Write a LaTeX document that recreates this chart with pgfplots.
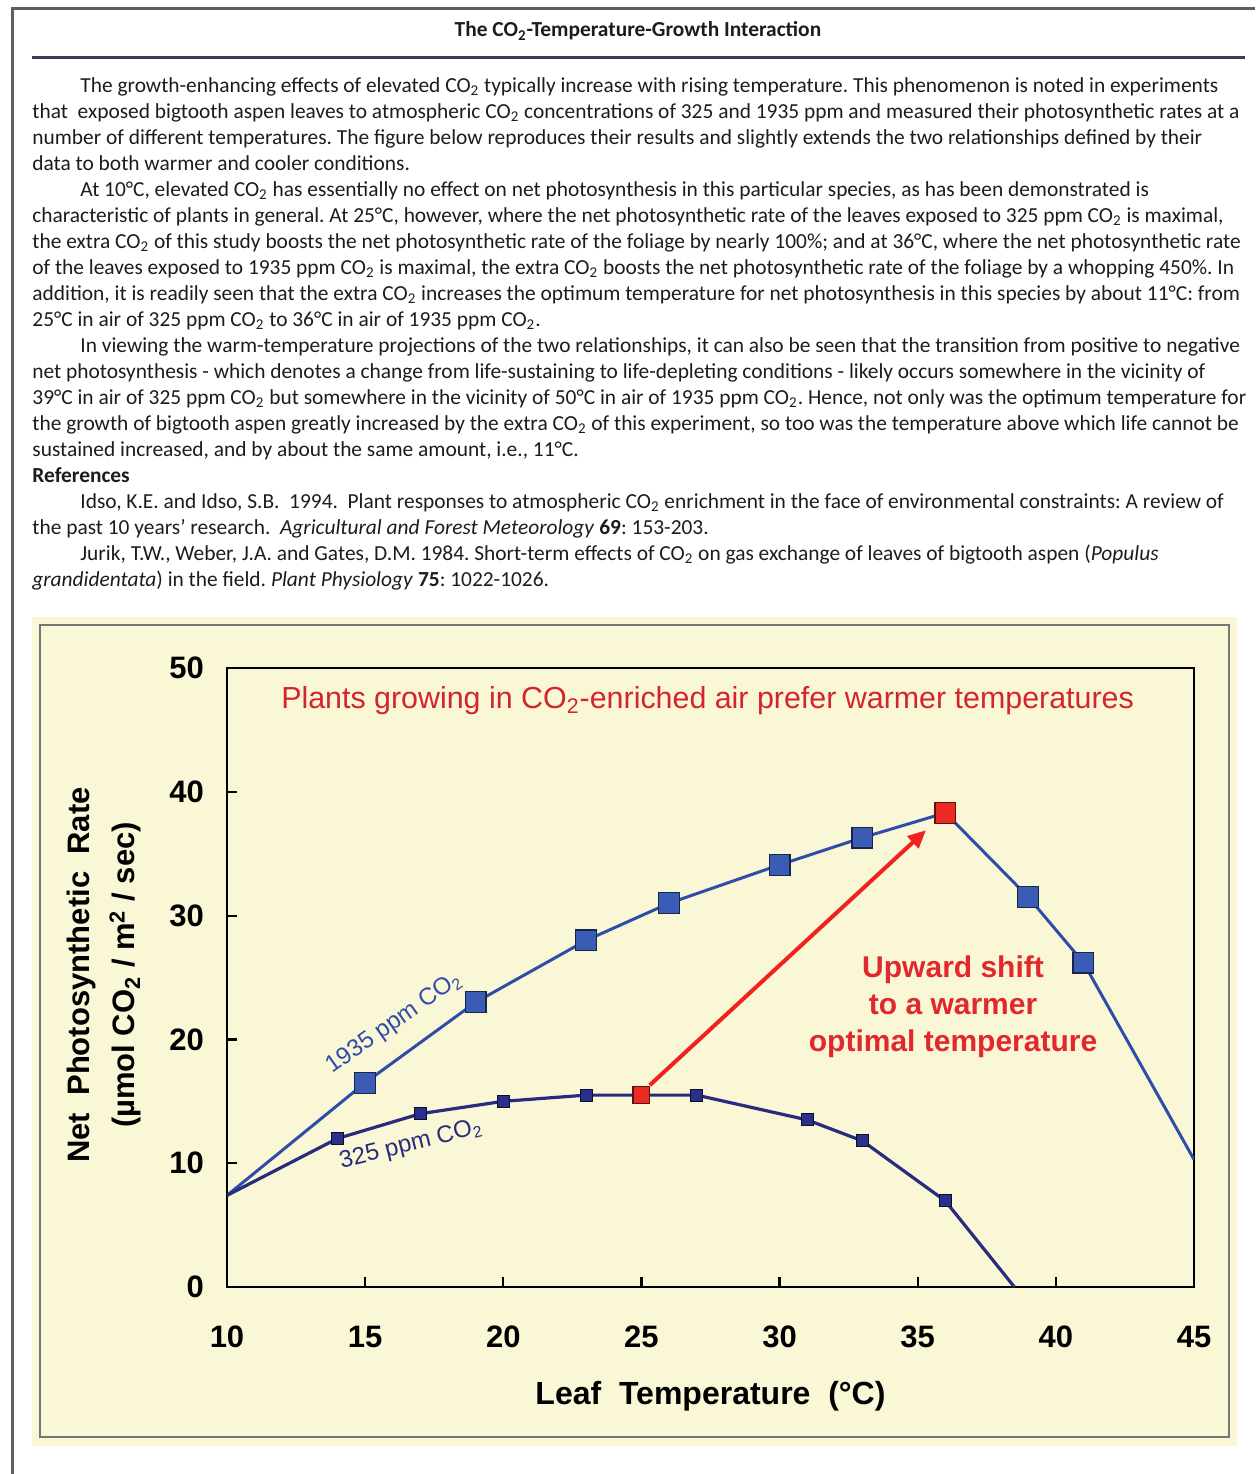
\documentclass[border=0pt]{standalone}
\usepackage{fontspec}
\setmainfont{Carlito}
\newfontfamily\arialfont{Liberation Sans}
\usepackage{pgfplots}
\pgfplotsset{compat=1.18}
\usetikzlibrary{arrows.meta}
\frenchspacing

\definecolor{chartbg}{HTML}{F9F7D6}
\definecolor{hiblue}{HTML}{3A5CB5}
\definecolor{hiblueline}{HTML}{2F4DA8}
\definecolor{loblue}{HTML}{2B2F8C}
\definecolor{loblueline}{HTML}{282B7E}
\definecolor{titlered}{HTML}{D3262C}
\definecolor{annred}{HTML}{E2282C}
\definecolor{arrowred}{HTML}{F0221F}
\definecolor{markred}{HTML}{EC2A24}
\definecolor{textgray}{HTML}{1C1C1C}
\definecolor{rulegray}{HTML}{3A3E5C}
\definecolor{framegray}{HTML}{5E5E5E}

% one line of the page text, placed on its baseline (pixel units)
\newcommand\txtline[3]{\node[anchor=base west,inner sep=0pt] at (#1,#2) {#3};}
\newcommand\cotwo{CO\textsubscript{2}}

\begin{document}
\begin{tikzpicture}
\begin{scope}[x=0.5pt,y=-0.5pt]
  \path[use as bounding box] (0,0) rectangle (1255,1474);
  % page frame
  \draw[framegray, line width=1.5pt] (1255,8) -- (12,8) -- (12,1474);
  % heading
  \node[font=\fontsize{10.7}{12}\selectfont\bfseries, text=textgray] at (638,31) {The \cotwo-Temperature-Growth Interaction};
  \draw[rulegray, line width=1.5pt] (32,57) -- (1245,57);

  \begin{scope}[font=\fontsize{10.7}{12}\selectfont, text=textgray]
  \txtline{80}{92}{The growth-enhancing effects of elevated \cotwo{} typically increase with rising temperature. This phenomenon is noted in experiments}
  \txtline{32}{118}{that\ \ exposed bigtooth aspen leaves to atmospheric \cotwo{} concentrations of 325 and 1935 ppm and measured their photosynthetic rates at a}
  \txtline{32}{144}{number of different temperatures. The figure below reproduces their results and slightly extends the two relationships defined by their}
  \txtline{32}{170}{data to both warmer and cooler conditions.}
  \txtline{80}{196}{At 10°C, elevated \cotwo{} has essentially no effect on net photosynthesis in this particular species, as has been demonstrated is}
  \txtline{32}{222}{characteristic of plants in general. At 25°C, however, where the net photosynthetic rate of the leaves exposed to 325 ppm \cotwo{} is maximal,}
  \txtline{32}{248}{the extra \cotwo{} of this study boosts the net photosynthetic rate of the foliage by nearly 100\%; and at 36°C, where the net photosynthetic rate}
  \txtline{32}{274}{of the leaves exposed to 1935 ppm \cotwo{} is maximal, the extra \cotwo{} boosts the net photosynthetic rate of the foliage by a whopping 450\%. In}
  \txtline{32}{300}{addition, it is readily seen that the extra \cotwo{} increases the optimum temperature for net photosynthesis in this species by about 11°C: from}
  \txtline{32}{326}{25°C in air of 325 ppm \cotwo{} to 36°C in air of 1935 ppm \cotwo.}
  \txtline{80}{352}{In viewing the warm-temperature projections of the two relationships, it can also be seen that the transition from positive to negative}
  \txtline{32}{378}{net photosynthesis - which denotes a change from life-sustaining to life-depleting conditions - likely occurs somewhere in the vicinity of}
  \txtline{32}{404}{39°C in air of 325 ppm \cotwo{} but somewhere in the vicinity of 50°C in air of 1935 ppm \cotwo. Hence, not only was the optimum temperature for}
  \txtline{32}{430}{the growth of bigtooth aspen greatly increased by the extra \cotwo{} of this experiment, so too was the temperature above which life cannot be}
  \txtline{32}{456}{sustained increased, and by about the same amount, i.e., 11°C.}
  \txtline{32}{482}{\textbf{References}}
  \txtline{80}{508}{Idso, K.E. and Idso, S.B.\ \ 1994.\ \ Plant responses to atmospheric \cotwo{} enrichment in the face of environmental constraints: A review of}
  \txtline{32}{534}{the past 10 years' research.\ \ \textit{Agricultural and Forest Meteorology} \textbf{69}: 153-203.}
  \txtline{80}{560}{Jurik, T.W., Weber, J.A. and Gates, D.M. 1984. Short-term effects of \cotwo{} on gas exchange of leaves of bigtooth aspen (\textit{Populus}}
  \txtline{32}{586}{\textit{grandidentata}) in the field. \textit{Plant Physiology} \textbf{75}: 1022-1026.}
  \end{scope}

  % chart panel
  \fill[chartbg] (32,617) rectangle (1237,1446);
  \draw[framegray!85, line width=1pt] (40,625) rectangle (1229,1437);
\end{scope}

\begin{axis}[
  at={(113.5pt,-643.5pt)}, anchor=south west,
  scale only axis, width=483.5pt, height=309.5pt,
  xmin=10, xmax=45, ymin=0, ymax=50,
  xtick={10,15,...,45}, ytick={0,10,...,50},
  tick align=inside, tick pos=left, major tick length=5pt,
  axis line style={line width=1.1pt, black},
  every tick/.style={black, line width=1.1pt},
  axis background/.style={fill=chartbg},
  /pgf/number format/assume math mode=true,
  ticklabel style={font=\arialfont\bfseries\fontsize{15.5}{16}\selectfont},
  xticklabel style={yshift=-16pt},
  yticklabel style={xshift=-8pt},
  xlabel={Leaf\ \ Temperature\ \ (°C)},
  ylabel={Net\ \ Photosynthetic\ \ Rate\\(µmol CO\textsubscript{2} / m\textsuperscript{2} / sec)},
  every axis x label/.style={at={(rel axis cs:0.5,-0.176)}, anchor=center,
    font=\arialfont\bfseries\fontsize{16}{18}\selectfont},
  every axis y label/.style={at={(rel axis cs:-0.1267,0.504)}, anchor=center, rotate=90,
    align=center, font=\arialfont\bfseries\fontsize{15.5}{22.5}\selectfont},
]
  % 1935 ppm line and measured points
  \addplot[hiblueline, line width=1.5pt, no markers] coordinates {
    (10,7.4) (15,16.5) (19,23) (23,28) (26,31) (30,34.1) (33,36.3) (36,38.3) (39,31.5) (41,26.2) (45,10.3)};
  \addplot[only marks, mark=square*, mark size=5.2pt,
    mark options={fill=hiblue, draw=black!60!hiblue, line width=0.6pt}] coordinates {
    (15,16.5) (19,23) (23,28) (26,31) (30,34.1) (33,36.3) (39,31.5) (41,26.2)};
  % 325 ppm line and measured points
  \addplot[loblueline, line width=1.6pt, no markers] coordinates {
    (10,7.4) (14,12) (17,14) (20,15) (23,15.5) (25,15.5) (27,15.5) (31,13.5) (33,11.8) (36,6.95) (38.5,0)};
  \addplot[only marks, mark=square*, mark size=3pt,
    mark options={fill=loblue, draw=black!70!loblue, line width=0.5pt}] coordinates {
    (14,12) (17,14) (20,15) (23,15.5) (27,15.5) (31,13.5) (33,11.8) (36,6.95)};
  % shift of the optimum
  \addplot[arrowred, line width=2pt, -{Triangle[length=9pt,width=8pt]}] coordinates {(25.3,16.3) (35.3,36.9)};
  \addplot[only marks, mark=square*, mark size=5.2pt,
    mark options={fill=markred, draw=black!60!markred, line width=0.6pt}] coordinates {(36,38.3)};
  \addplot[only marks, mark=square*, mark size=4.2pt,
    mark options={fill=markred, draw=black!60!markred, line width=0.6pt}] coordinates {(25,15.5)};

  \node[text=titlered, font=\arialfont\fontsize{15.2}{17}\selectfont] at (rel axis cs:0.497,0.948)
    {Plants growing in CO\textsubscript{2}-enriched air prefer warmer temperatures};
  \node[text=annred, align=center, font=\arialfont\bfseries\fontsize{15}{18.5}\selectfont] at (axis cs:36.28,22.6)
    {Upward shift\\to a warmer\\optimal temperature};
  \node[text=hiblueline, rotate=35, font=\arialfont\fontsize{12}{14}\selectfont] at (axis cs:16.05,21.3)
    {1935 ppm CO\textsubscript{2}};
  \node[text=loblueline, rotate=14, font=\arialfont\fontsize{12}{14}\selectfont] at (axis cs:16.66,11.47)
    {325 ppm CO\textsubscript{2}};
\end{axis}
\end{tikzpicture}
\end{document}
